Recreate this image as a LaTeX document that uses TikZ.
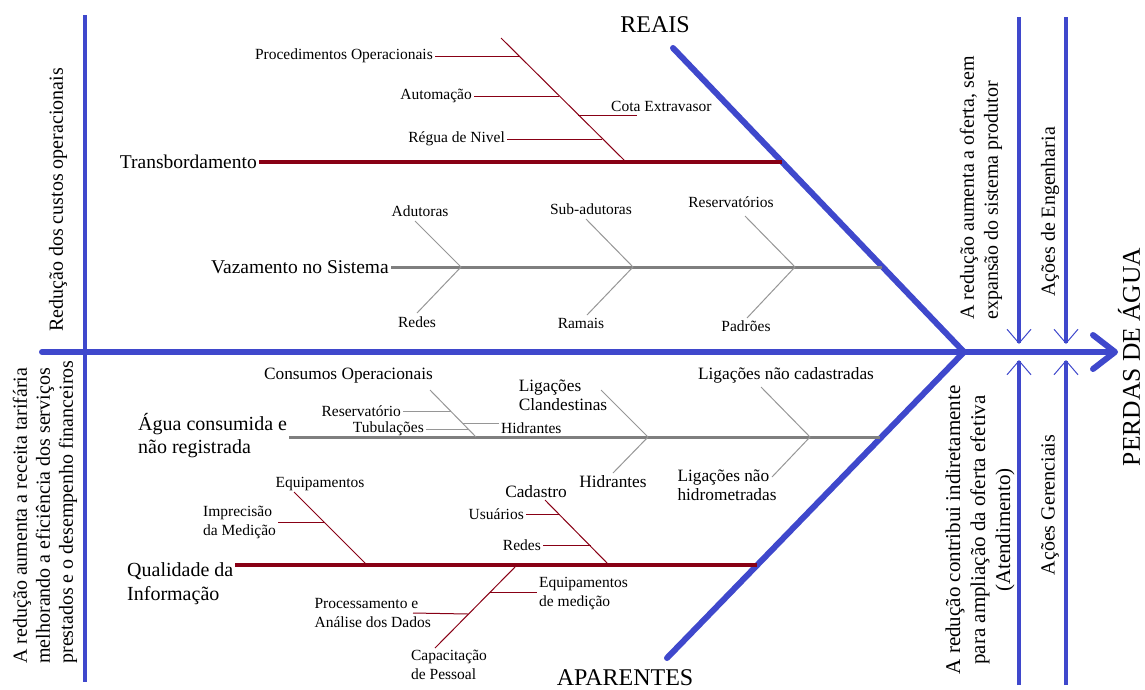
\documentclass[tikz,border=0pt]{standalone}
\usepackage{fontspec}
\setmainfont{Liberation Serif}
\usetikzlibrary{arrows.meta}
\definecolor{fishblue}{RGB}{63,72,204}
\definecolor{bonered}{RGB}{136,0,21}
\definecolor{bonegray}{RGB}{127,127,127}
\definecolor{ribgray}{RGB}{150,150,150}
\tikzset{
	spine/.style={fishblue,line width=6pt,line cap=round},
	wall/.style={fishblue,line width=3.5pt},
	wallarrow/.style={-{Straight Barb[length=14pt,width=24pt,line width=1pt]}},
	redbone/.style={bonered,line width=3.5pt},
	graybone/.style={bonegray,line width=3pt},
	redrib/.style={bonered,line width=1pt},
	grayrib/.style={ribgray,line width=1pt},
	bigtxt/.style={font=\fontsize{19.5}{23}\selectfont,inner sep=2pt},
	ribtxt/.style={font=\fontsize{15.5}{19}\selectfont,inner sep=2pt},
	ribtxtb/.style={font=\fontsize{17.3}{19.5}\selectfont,inner sep=2pt},
	sidetxt/.style={font=\fontsize{20}{24}\selectfont,rotate=90,inner sep=0pt}
}
\newcommand{\rib}[5]{
	\coordinate (#2end) at (#4);
	\node [ribtxt,anchor=east] (#2) at (#3) {#5};
	\draw [#1] (#2) -- (#2end)
}
\newcommand{\vrib}[4]{
	\coordinate (#1) at (#2);
	\coordinate (#1top) at (#3);
	\coordinate (#1bot) at (#4);
	\draw [grayrib] (#1top) -- (#1) -- (#1bot)
}

\begin{document}
\begin{tikzpicture}[x=1pt,y=-1pt]
	\useasboundingbox (0,0) rectangle (1145,689);

	% Fish frame
	\coordinate (tail) at (42,352);
	\coordinate (head) at (1118,352);
	\coordinate (mouth) at (964,352);
	\coordinate (reaistop) at (673,48);
	\coordinate (aparbot) at (667,658);
	\draw [spine,-{Straight Barb[round,length=22pt,width=34pt]}] (tail) -- (head);
	\draw [spine] (reaistop) -- (mouth) -- (aparbot);
	\node [font=\fontsize{24}{28}\selectfont] (reais) at (655,25) {REAIS};
	\node [font=\fontsize{24}{28}\selectfont] (aparentes) at (625,678) {APARENTES};

	% Walls
	\coordinate (lwtop) at (85,15);
	\coordinate (lwbot) at (85,682);
	\draw [wall] (lwtop) -- (lwbot);
	\foreach \n/\x in {eng/1019,ger/1066}{
		\coordinate (\n top) at (\x,17);
		\coordinate (\n up) at (\x,344);
		\coordinate (\n down) at (\x,360);
		\coordinate (\n bot) at (\x,685);
		\draw [wall,wallarrow] (\n top) -- (\n up);
		\draw [wall,wallarrow] (\n bot) -- (\n down);
	}

	% Side texts
	\node [sidetxt] (custos) at (58,200) {Redução dos custos operacionais};
	\node [sidetxt,align=left,font=\fontsize{20}{23}\selectfont] (receita) at (45,512)
		{A redução aumenta a receita tarifária\\melhorando a eficiência dos serviços\\prestados e o desempenho financeiros};
	\node [sidetxt,align=left] (oferta) at (981,188) {A redução aumenta a oferta, sem\\expansão do sistema produtor};
	\node [sidetxt] (engenharia) at (1050,212) {Ações de Engenharia};
	\node [sidetxt,align=center,font=\fontsize{21}{25}\selectfont] (atendimento) at (980,530)
		{A redução contribui indiretamente\\para ampliação da oferta efetiva\\(Atendimento)};
	\node [sidetxt] (gerenciais) at (1050,505) {Ações Gerenciais};
	\node [sidetxt,font=\fontsize{25.5}{30}\selectfont] (perdas) at (1129,357) {PERDAS DE ÁGUA};

	% Transbordamento
	\node [bigtxt,anchor=east] (transb) at (259,162) {Transbordamento};
	\coordinate (transbend) at (782,162);
	\draw [redbone] (transb) -- (transbend);
	\coordinate (tdtop) at (501,38);
	\coordinate (tdbot) at (626,162);
	\draw [redrib] (tdtop) -- (tdbot);
	\rib{redrib}{proced}{435,56}{519,56}{Procedimentos Operacionais};
	\rib{redrib}{autom}{474,96}{559,96}{Automação};
	\rib{redrib}{regua}{507,139}{602,139}{Régua de Nivel};
	\coordinate (cotastart) at (578,115);
	\coordinate (cotaend) at (637,115);
	\draw [redrib] (cotastart) -- (cotaend);
	\node [ribtxt,anchor=south west] (cota) at (609,114) {Cota Extravasor};

	% Vazamento no Sistema
	\node [bigtxt,anchor=east] (vazam) at (391,267) {Vazamento no Sistema};
	\coordinate (vazamend) at (882,267);
	\draw [graybone] (vazam) -- (vazamend);
	\vrib{adut}{461,267}{415,221}{417,313};
	\vrib{subad}{633,267}{586,219}{587,315};
	\vrib{resv}{795,267}{745,216}{747,318};
	\node [ribtxt] (adutoras) at (420,211) {Adutoras};
	\node [ribtxt] (redes) at (417,322) {Redes};
	\node [ribtxt] (subadutoras) at (591,209) {Sub-adutoras};
	\node [ribtxt] (ramais) at (581,323) {Ramais};
	\node [ribtxt] (reservatorios) at (731,202) {Reservatórios};
	\node [ribtxt] (padroes) at (746,326) {Padrões};

	% Agua consumida e nao registrada
	\node [bigtxt,anchor=west,align=left,font=\fontsize{20}{23}\selectfont] (agua) at (136,436)
		{Água consumida e\\não registrada};
	\coordinate (aguaend) at (880,437);
	\draw [graybone] (agua.east |- aguaend) -- (aguaend);
	\node [ribtxtb,anchor=east] (consumos) at (435,376) {Consumos Operacionais};
	\coordinate (cotop) at (430,390);
	\coordinate (cobot) at (476,437);
	\draw [grayrib] (cotop) -- (cobot);
	\rib{grayrib}{reserv}{403,411}{451,411}{Reservatório};
	\rib{grayrib}{tubul}{426,429}{469,429}{Tubulações};
	\coordinate (hidrstart) at (463,423);
	\node [ribtxt,anchor=west] (hidrup) at (499,428) {Hidrantes};
	\draw [grayrib] (hidrstart) -- (hidrstart -| hidrup.west);
	\vrib{clan}{648,437}{601,390}{613,473};
	\vrib{cadas}{810,437}{761,387}{772,477};
	\node [ribtxtb,align=left] (clandest) at (563,395) {Ligações\\Clandestinas};
	\node [ribtxtb] (hidrlow) at (613,482) {Hidrantes};
	\node [ribtxtb] (naocadas) at (786,375) {Ligações não cadastradas};
	\node [ribtxtb,align=left] (naohidro) at (727,485) {Ligações não\\hidrometradas};

	% Qualidade da Informacao
	\node [bigtxt,anchor=west,align=left,font=\fontsize{20}{24}\selectfont] (qualid) at (125,584)
		{Qualidade da\\Informação};
	\coordinate (qualidend) at (757,565);
	\draw [redbone] (qualid.east |- qualidend) -- (qualidend);
	\node [ribtxt] (equip) at (320,484) {Equipamentos};
	\coordinate (eqtop) at (294,492);
	\coordinate (eqbot) at (367,565);
	\draw [redrib] (eqtop) -- (eqbot);
	\node [ribtxt,anchor=west,align=left] (imprec) at (201,522) {Imprecisão\\da Medição};
	\coordinate (imprecend) at (325,522);
	\draw [redrib] (imprec.east) -- (imprecend);
	\node [ribtxtb] (cadastro) at (536,492) {Cadastro};
	\coordinate (catop) at (545,500);
	\coordinate (cabot) at (609,565);
	\draw [redrib] (catop) -- (cabot);
	\rib{redrib}{usuar}{526,514}{560,514}{Usuários};
	\rib{redrib}{redesb}{543,545}{591,545}{Redes};
	\coordinate (ldtop) at (516,566);
	\coordinate (ldbot) at (435,648);
	\draw [redrib] (ldtop) -- (ldbot);
	\node [ribtxt,anchor=west,align=left] (eqmed) at (537,594) {Equipamentos\\de medição};
	\coordinate (eqmedstart) at (490,592);
	\draw [redrib] (eqmedstart) -- (eqmedstart -| eqmed.west);
	\node [ribtxt,anchor=east,align=left] (procdad) at (433,613) {Processamento e\\Análise dos Dados};
	\coordinate (procdadend) at (468,614);
	\draw [redrib] ([xshift=-20pt]procdad.east) -- (procdadend);
	\node [ribtxt,align=left] (capac) at (449,665) {Capacitação\\de Pessoal};

\end{tikzpicture}
\end{document}
